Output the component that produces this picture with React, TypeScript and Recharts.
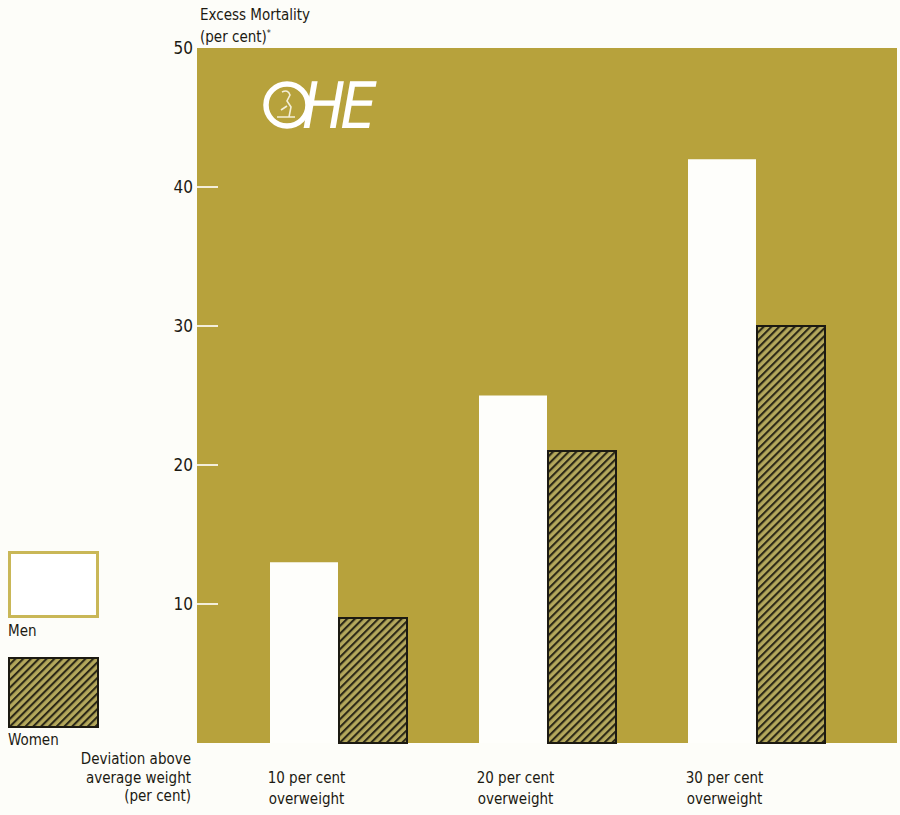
import { BarChart, Bar, XAxis, YAxis, CartesianGrid } from 'recharts'

const categories = ['10 per cent overweight', '20 per cent overweight', '30 per cent overweight']
const men = [13, 25, 42]
const women = [9, 21, 30]
const yTicks = [10, 20, 30, 40, 50]
const sideTicks = [10, 20, 30, 40]

const FONT = "'Liberation Sans Narrow', 'DejaVu Sans Condensed', 'Roboto Condensed', sans-serif"
const GOLD = '#B7A23C'
const INK = '#1c1a12'
const TICK_LINE = '#F3EEDB'

const MARGIN = { top: 48, right: 3, bottom: 0, left: 157 }
const Y_AXIS_W = 40
const X_AXIS_H = 72
const W = 900
const H = 815
const PLOT_LEFT = MARGIN.left + Y_AXIS_W
const PLOT_RIGHT = W - MARGIN.right
const PLOT_BOTTOM = H - X_AXIS_H
const BAR = 68

const data = categories.map((c, i) => ({ category: c, men: men[i], women: women[i] }))

function Hatch({ id }: { id: string }) {
  return (
    <pattern id={id} width={5.5} height={5.5} patternUnits="userSpaceOnUse" patternTransform="rotate(45)">
      <rect width={5.5} height={5.5} fill="#B4A85C" />
      <line x1={1} y1={0} x2={1} y2={5.5} stroke="#2b2816" strokeWidth={2.2} />
    </pattern>
  )
}

function LeftTick({ y, payload }: any) {
  return (
    <g>
      {payload.value !== 50 && (
        <line x1={PLOT_LEFT} x2={PLOT_LEFT + 21} y1={y} y2={y} stroke={TICK_LINE} strokeWidth={2} />
      )}
      <text x={PLOT_LEFT - 4} y={y + 6} textAnchor="end" fontFamily={FONT} fontSize={17} fill={INK}>
        {payload.value}
      </text>
    </g>
  )
}

function RightTick({ y }: any) {
  return <line x1={PLOT_RIGHT - 23} x2={PLOT_RIGHT - 1} y1={y} y2={y} stroke={TICK_LINE} strokeWidth={2} />
}

// two-line label, sitting under the men's bar of each pair
function CategoryTick({ x, payload }: any) {
  const s: string = payload.value
  const cut = s.lastIndexOf(' ')
  const cx = x - BAR / 2 + 2
  return (
    <g fontFamily={FONT} fontSize={15} fill={INK} textAnchor="middle">
      <text x={cx} y={PLOT_BOTTOM + 40}>{s.slice(0, cut)}</text>
      <text x={cx} y={PLOT_BOTTOM + 61}>{s.slice(cut + 1)}</text>
    </g>
  )
}

function Logo() {
  return (
    <svg width={170} height={80} style={{ position: 'absolute', left: 255, top: 66 }}>
      <circle cx={32} cy={39} r={21} fill="none" stroke="#fff" strokeWidth={5.5} />
      <path d="M27 26 q6 -3 8 3 l-3 6 l4 6 l-2 10 M22 51 l18 0 M26 44 l6 -4" fill="none" stroke="#f4efd8" strokeWidth={1.6} />
      <text x={44} y={62} fontFamily={FONT} fontSize={64} fill="#fff" letterSpacing={-5} transform="skewX(-10) translate(10 0)">
        HE
      </text>
    </svg>
  )
}

function LegendBox({ label, top, hatched }: { label: string; top: number; hatched: boolean }) {
  return (
    <div style={{ position: 'absolute', left: 8, top }}>
      <svg width={92} height={72} style={{ display: 'block' }}>
        {hatched ? (
          <>
            <defs><Hatch id="hatch-legend" /></defs>
            <rect x={1} y={1} width={89} height={69} fill="url(#hatch-legend)" stroke={INK} strokeWidth={2} />
          </>
        ) : (
          <rect x={1.5} y={1.5} width={88} height={64} fill="#fff" stroke="#C9B757" strokeWidth={3} />
        )}
      </svg>
      <div style={{ fontFamily: FONT, fontSize: 15, color: INK, marginTop: hatched ? 2 : -1, lineHeight: '18px' }}>{label}</div>
    </div>
  )
}

export default function App() {
  return (
    <div style={{ position: 'absolute', left: 0, top: 0, width: W, height: H, background: '#fdfdf9', overflow: 'hidden' }}>
      <div style={{ position: 'absolute', left: 200, top: 6, fontFamily: FONT, fontSize: 15, color: INK, lineHeight: '18px' }}>
        Excess Mortality<br />(per cent)<sup style={{ fontSize: 9 }}>*</sup>
      </div>

      <BarChart width={W} height={H} data={data} margin={MARGIN} barGap={1} barSize={BAR}>
        <defs><Hatch id="hatch" /></defs>
        <CartesianGrid yAxisId="left" horizontal={false} vertical={false} fill={GOLD} fillOpacity={1} stroke="none" />
        <XAxis dataKey="category" height={X_AXIS_H} padding={{ left: 37, right: 36 }} axisLine={false} tickLine={false} tick={<CategoryTick />} interval={0} />
        <YAxis yAxisId="left" width={Y_AXIS_W} domain={[0, 50]} ticks={yTicks} axisLine={false} tickLine={false} tick={<LeftTick />} />
        <YAxis yAxisId="right" orientation="right" width={0} domain={[0, 50]} ticks={sideTicks} axisLine={false} tickLine={false} tick={<RightTick />} />
        <Bar yAxisId="left" dataKey="men" name="Men" fill="#fefefb" isAnimationActive={false} />
        <Bar yAxisId="left" dataKey="women" name="Women" fill="url(#hatch)" stroke={INK} strokeWidth={2} isAnimationActive={false} />
      </BarChart>

      <Logo />

      <LegendBox label="Men" top={551} hatched={false} />
      <LegendBox label="Women" top={657} hatched />

      <div style={{ position: 'absolute', right: W - 191, top: 750, textAlign: 'right', fontFamily: FONT, fontSize: 15, color: INK, lineHeight: '18.5px', whiteSpace: 'nowrap' }}>
        Deviation above<br />average weight<br />(per cent)
      </div>
    </div>
  )
}
